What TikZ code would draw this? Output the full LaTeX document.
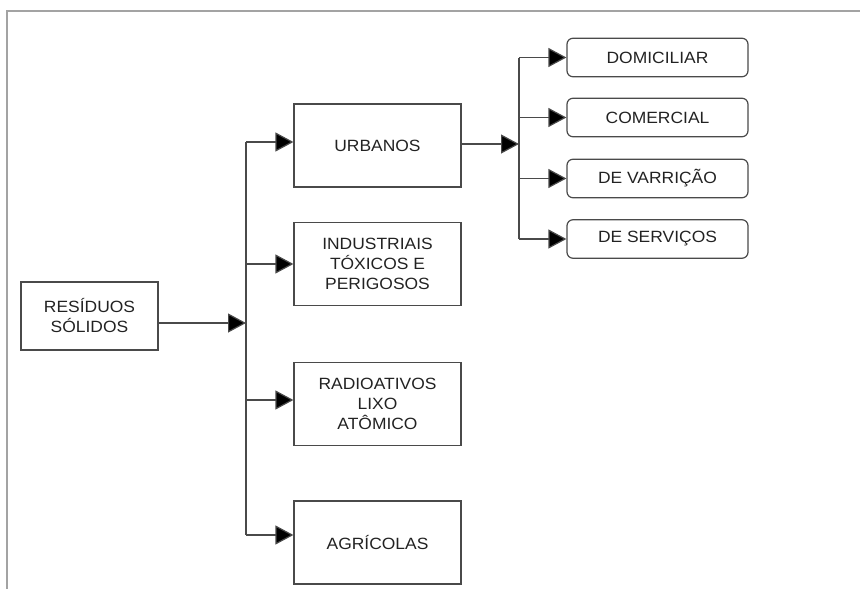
\documentclass[tikz,border=0pt]{standalone}
\usepackage{fontspec}
\setmainfont{Liberation Sans}[FakeStretch=1.07]
\usetikzlibrary{arrows.meta}
\definecolor{edgegray}{HTML}{4A4A4A}
\definecolor{framegray}{HTML}{A3A3A3}
\definecolor{textgray}{HTML}{222222}
\begin{document}
\begin{tikzpicture}[x=1pt,y=-1pt,
  every node/.style={font=\fontsize{16.3}{20}\selectfont, text=textgray, align=center, inner sep=0pt},
  bigbox/.style={draw=edgegray, line width=1.2pt, minimum width=167pt, minimum height=83pt},
  subbox/.style={draw=edgegray, line width=1.2pt, rounded corners=6pt, minimum width=181pt, minimum height=38.5pt},
  rootbox/.style={draw=edgegray, line width=1.2pt, minimum width=137pt, minimum height=68pt},
  conn/.style={draw=edgegray, line width=1.2pt},
  arr/.style={conn, -{Triangle[length=18pt,width=19pt,fill=black]}}]
\useasboundingbox (0,0) rectangle (860,589);

% outer frame (top and left edges only)
\draw[framegray, line width=1.6pt] (860,11) -- (7,11) -- (7,589);

% root and first-level categories
\node[rootbox] (res) at (89.5,316) {RESÍDUOS\\SÓLIDOS};
\node[bigbox] (urb) at (377.5,145.5) {URBANOS};
\node[bigbox] (ind) at (377.5,264) {INDUSTRIAIS\\TÓXICOS E\\PERIGOSOS};
\node[bigbox] (rad) at (377.5,404) {RADIOATIVOS\\LIXO\\ATÔMICO};
\node[bigbox] (agr) at (377.5,542.5) {AGRÍCOLAS};

% urban sub-categories
\node[subbox] (dom) at (657.5,57.5) {DOMICILIAR};
\node[subbox] (com) at (657.5,117.5) {COMERCIAL};
\node[subbox] (var) at (657.5,178.5) {DE VARRIÇÃO};
\node[subbox] (ser) at (657.5,239) {DE SERVIÇOS};

% main trunk
\coordinate (t0) at (246,323);
\coordinate (t1) at (246,142);
\coordinate (t2) at (246,264);
\coordinate (t3) at (246,400);
\coordinate (t4) at (246,535);
\draw[arr] ([yshift=-7pt]res.east) -- (t0);
\draw[conn] (t1) -- (t4);
\draw[arr] (t1) -- (t1 -| urb.west);
\draw[arr] (t2) -- (t2 -| ind.west);
\draw[arr] (t3) -- (t3 -| rad.west);
\draw[arr] (t4) -- (t4 -| agr.west);

% urban trunk
\coordinate (u0) at (519,144);
\coordinate (u1) at (519,57.5);
\coordinate (u2) at (519,117.5);
\coordinate (u3) at (519,178.5);
\coordinate (u4) at (519,239);
\draw[arr] (u0 -| urb.east) -- (u0);
\draw[conn] (u1) -- (u4);
\draw[arr] (u1) -- (dom.west);
\draw[arr] (u2) -- (com.west);
\draw[arr] (u3) -- (var.west);
\draw[arr] (u4) -- (ser.west);
\end{tikzpicture}
\end{document}
